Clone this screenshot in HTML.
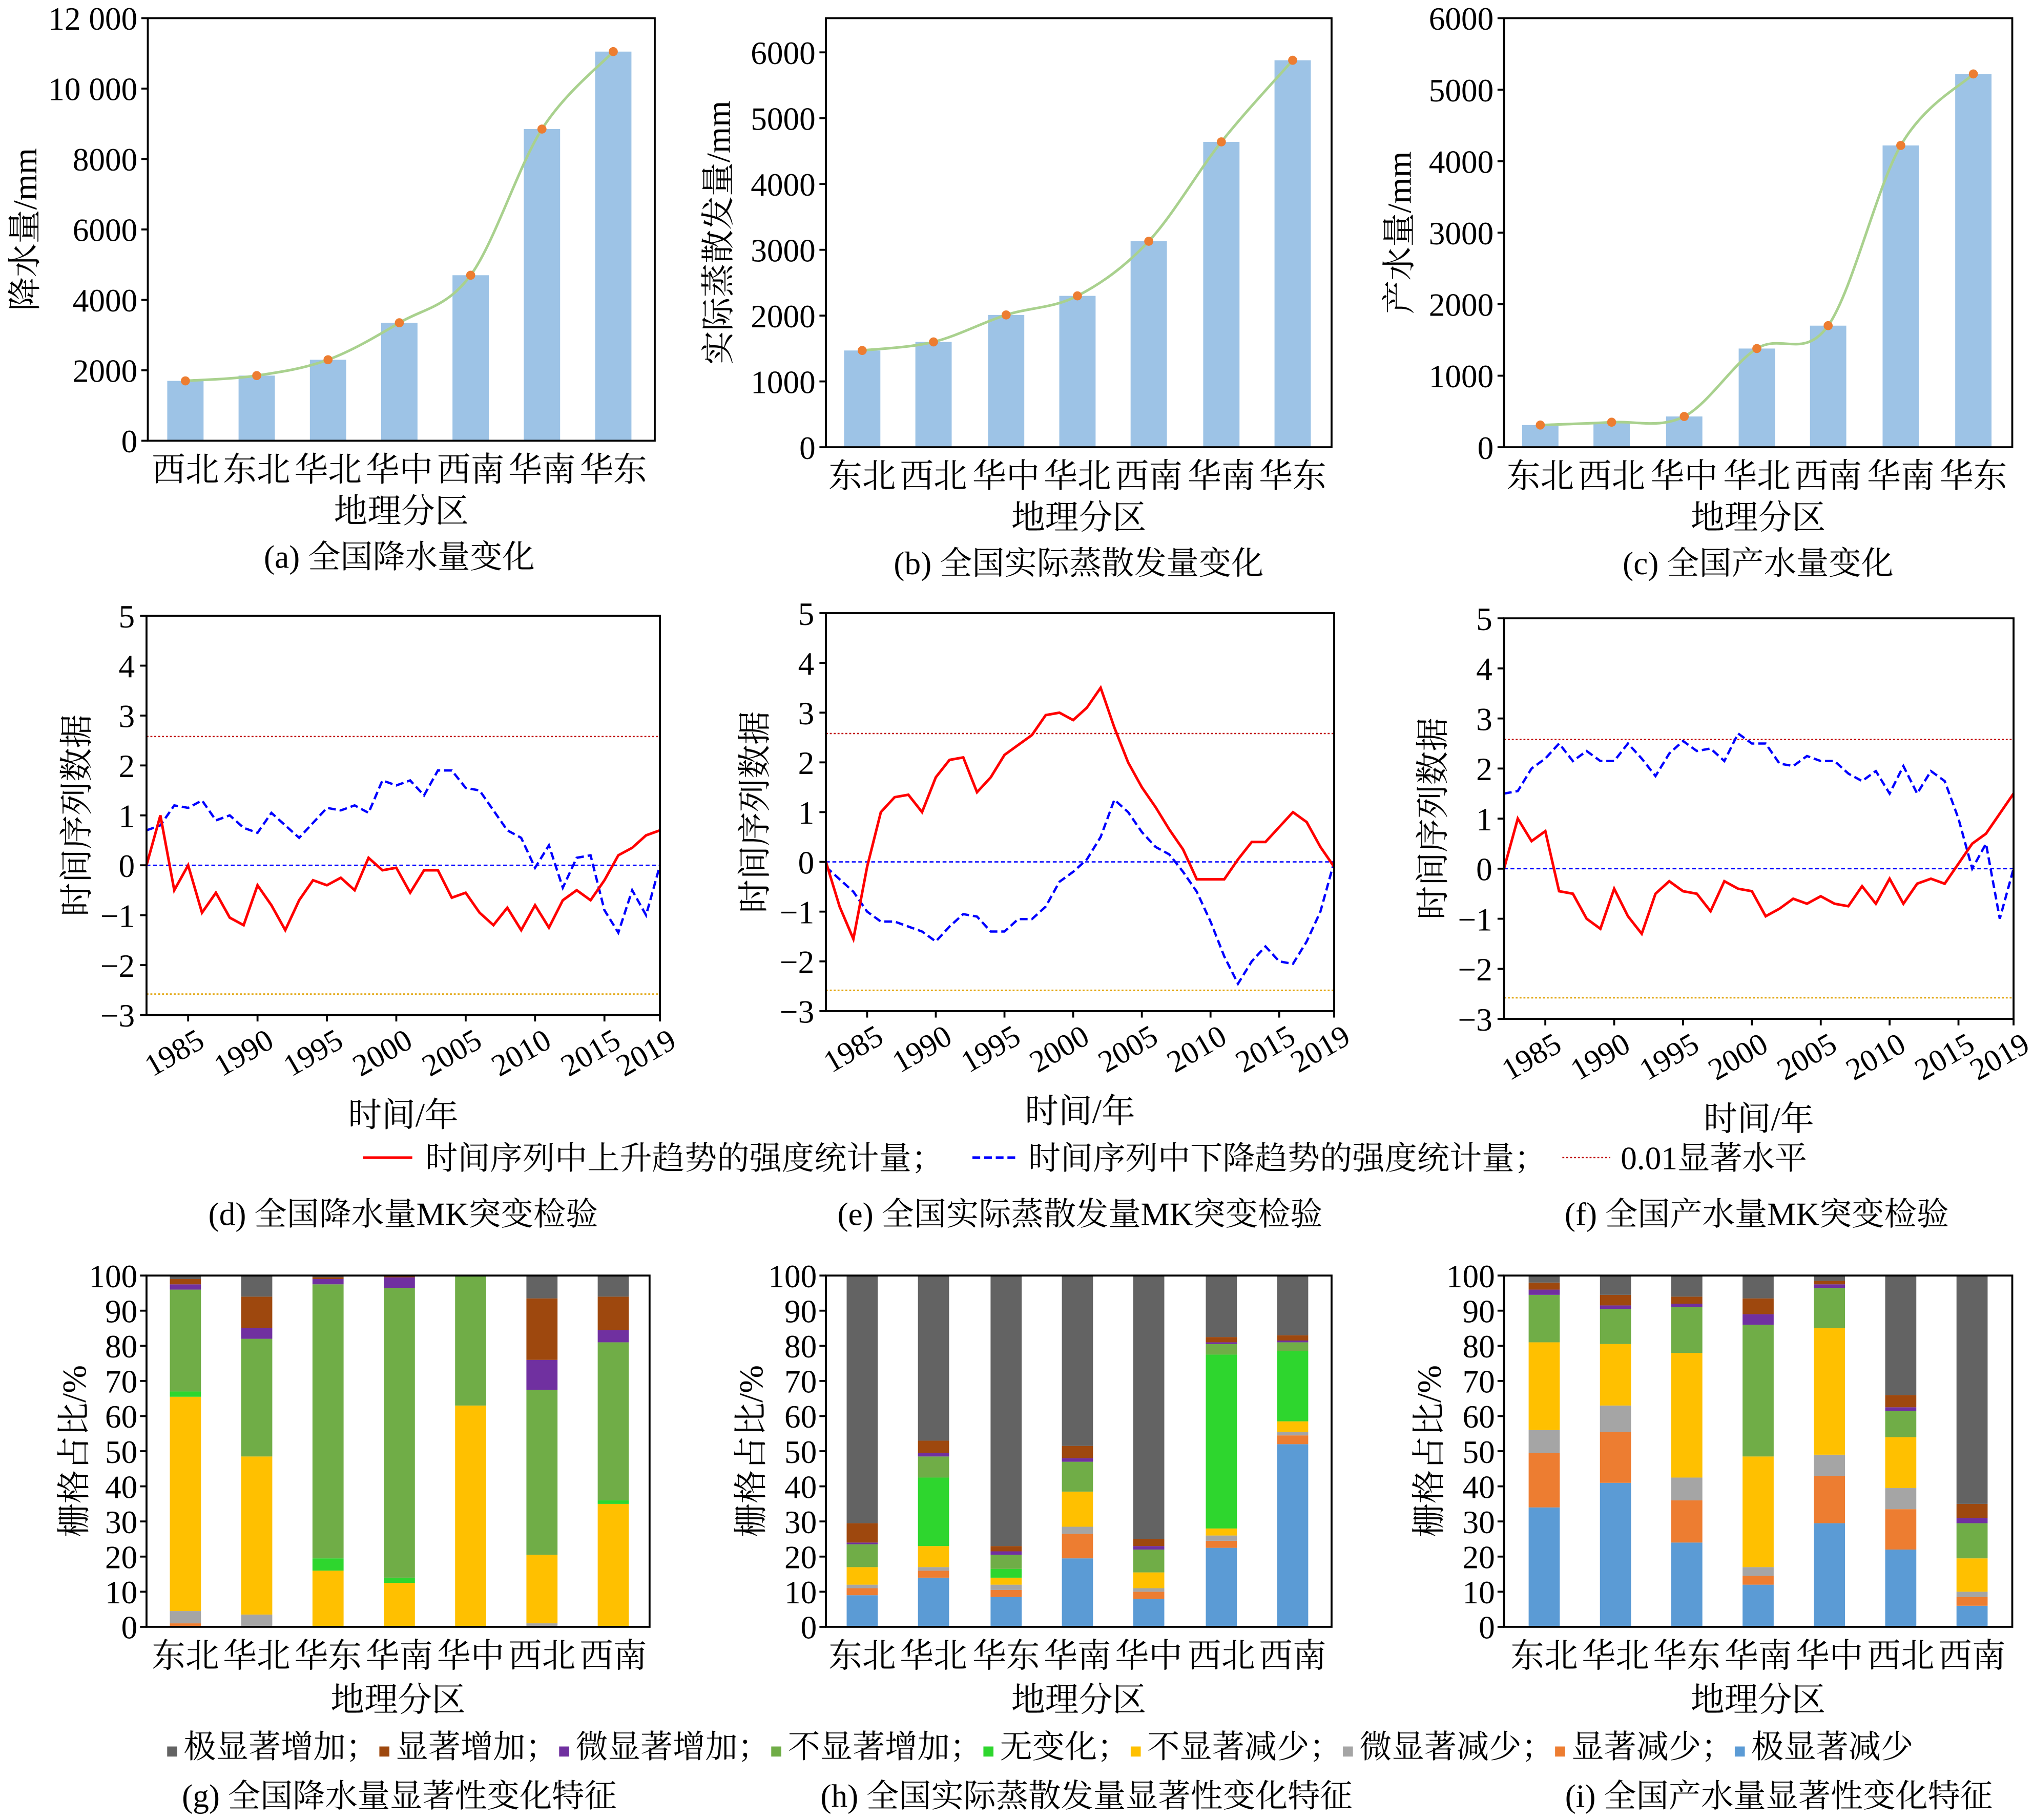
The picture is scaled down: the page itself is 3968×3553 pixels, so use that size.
<!DOCTYPE html>
<html><head><meta charset="utf-8">
<style>
html,body{margin:0;padding:0;background:#fff;}
svg{display:block;}
text{font-family:"Liberation Serif","Noto Serif CJK SC",serif;fill:#000;}
</style></head>
<body>
<svg id="s" xmlns="http://www.w3.org/2000/svg" width="3968" height="3553" viewBox="0 0 1568 1404"></svg>
<script>
const S=document.getElementById('s');let h='<rect width="1568" height="1404" fill="#fff"/>';
function T(x,y,t,sz,a,ex){h+=`<text x="${x}" y="${y}" font-size="${sz}" text-anchor="${a||'middle'}" ${ex||''}>${t}</text>`;}
function L(x1,y1,x2,y2,st){h+=`<line x1="${x1}" y1="${y1}" x2="${x2}" y2="${y2}" ${st||'stroke="#000" stroke-width="1.5"'}/>`;}
function smooth(p){let d=`M${p[0][0]},${p[0][1]}`;for(let i=0;i<p.length-1;i++){const p0=p[i-1]||p[i],p1=p[i],p2=p[i+1],p3=p[i+2]||p[i+1];
const c1=[p1[0]+(p2[0]-p0[0])/6,p1[1]+(p2[1]-p0[1])/6],c2=[p2[0]-(p3[0]-p1[0])/6,p2[1]-(p3[1]-p1[1])/6];d+=` C${c1[0]},${c1[1]} ${c2[0]},${c2[1]} ${p2[0]},${p2[1]}`;}return d;}
const CW='';
function barP(o){const {x0,x1,yb,yt,max,ticks,cats,vals,cx,yl,ylx,cap,capx}=o;const sc=(yb-yt)/max;
vals.forEach((v,i)=>{h+=`<rect x="${cx[i]-14}" y="${yb-v*sc}" width="28" height="${v*sc}" fill="#9dc3e6"/>`;});
const pts=vals.map((v,i)=>[cx[i],yb-v*sc]);h+=`<path d="${smooth(pts)}" fill="none" stroke="#a9d18e" stroke-width="2"/>`;
pts.forEach(p=>{h+=`<circle cx="${p[0]}" cy="${p[1]}" r="3.5" fill="#ed7d31"/>`;});
h+=`<rect x="${x0}" y="${yt}" width="${x1-x0}" height="${yb-yt}" fill="none" stroke="#000" stroke-width="1.5"/>`;
ticks.forEach(t=>{const y=yb-t[0]*sc;L(x0-5,y,x0,y);T(x0-8,y+9,t[1],25,'end');});
cats.forEach((c,i)=>T(cx[i],yb+31,c,26,'middle',CW));
T((x0+x1)/2,yb+63,'地理分区',26,'middle',CW);T(capx,yb+98,cap,25,'middle',CW);
T(ylx,(yb+yt)/2,yl,26,'middle',`${CW} transform="rotate(-90 ${ylx} ${(yb+yt)/2})" dy="8"`);}
const catA=['西北','东北','华北','华中','西南','华南','华东'],catB=['东北','西北','华中','华北','西南','华南','华东'];
barP({x0:114,x1:505,yb:340,yt:14,max:12000,ticks:[[0,'0'],[2000,'2000'],[4000,'4000'],[6000,'6000'],[8000,'8000'],[10000,'10 000'],[12000,'12 000']],cats:catA,vals:[1700,1850,2300,3350,4700,8850,11050],cx:[143,198,253,308,363,418,473],yl:'降水量/mm',ylx:20,cap:'(a) 全国降水量变化',capx:308});
barP({x0:637,x1:1027,yb:345,yt:14,max:6520,ticks:[[0,'0'],[1000,'1000'],[2000,'2000'],[3000,'3000'],[4000,'4000'],[5000,'5000'],[6000,'6000']],cats:catB,vals:[1470,1600,2010,2300,3130,4640,5880],cx:[665,720,776,831,886,942,997],yl:'实际蒸散发量/mm',ylx:555,cap:'(b) 全国实际蒸散发量变化',capx:832});
barP({x0:1160,x1:1552,yb:345,yt:14,max:6000,ticks:[[0,'0'],[1000,'1000'],[2000,'2000'],[3000,'3000'],[4000,'4000'],[5000,'5000'],[6000,'6000']],cats:catB,vals:[310,350,430,1380,1700,4220,5220],cx:[1188,1243,1299,1355,1410,1466,1522],yl:'产水量/mm',ylx:1080,cap:'(c) 全国产水量变化',capx:1356});
function lineP(o){const {x0,x1,yt,yb,red,blue,ylx,cap,capx}=o;const sy=(yb-yt)/8,Y=v=>yb-(v+3)*sy,X=yr=>x0+(yr-1982)*(x1-x0)/37;
L(x0,Y(2.58),x1,Y(2.58),'stroke="#c00000" stroke-width="1" stroke-dasharray="1.5,1.5"');
L(x0,Y(-2.58),x1,Y(-2.58),'stroke="#e0a000" stroke-width="1" stroke-dasharray="1.5,1.5"');
L(x0,Y(0),x1,Y(0),'stroke="#0000ff" stroke-width="1" stroke-dasharray="3,2"');
h+=`<polyline points="${blue.map((v,i)=>X(1982+i)+','+Y(v)).join(' ')}" fill="none" stroke="#0000ff" stroke-width="1.8" stroke-dasharray="6,3"/>`;
h+=`<polyline points="${red.map((v,i)=>X(1982+i)+','+Y(v)).join(' ')}" fill="none" stroke="#ff0000" stroke-width="2"/>`;
h+=`<rect x="${x0}" y="${yt}" width="${x1-x0}" height="${yb-yt}" fill="none" stroke="#000" stroke-width="1.5"/>`;
for(let v=-3;v<=5;v++){L(x0-5,Y(v),x0,Y(v));T(x0-9,Y(v)+9,v<0?'−'+(-v):v,25,'end');}
[1985,1990,1995,2000,2005,2010,2015,2019].forEach(yr=>{const x=X(yr);L(x,yb,x,yb+5);T(x+14,yb+24,yr,24,'end',`transform="rotate(-30 ${x+14} ${yb+24})"`);});
T((x0+x1)/2,yb+86,'时间/年',26,'middle',CW);T(capx,945,cap,25,'middle',CW);
T(ylx,(yb+yt)/2,'时间序列数据',26,'middle',`${CW} transform="rotate(-90 ${ylx} ${(yb+yt)/2})" dy="8"`);}
lineP({x0:113,x1:509,yt:475,yb:783,ylx:60,cap:'(d) 全国降水量MK突变检验',capx:311,
red:[0,1,-0.5,0,-0.95,-0.55,-1.05,-1.2,-0.4,-0.8,-1.3,-0.7,-0.3,-0.4,-0.25,-0.5,0.15,-0.1,-0.05,-0.55,-0.1,-0.1,-0.65,-0.55,-0.95,-1.2,-0.85,-1.3,-0.8,-1.25,-0.7,-0.5,-0.7,-0.3,0.2,0.35,0.6,0.7],
blue:[0.7,0.8,1.2,1.15,1.3,0.9,1.0,0.75,0.65,1.05,0.8,0.55,0.85,1.15,1.1,1.2,1.05,1.7,1.6,1.7,1.4,1.9,1.9,1.55,1.5,1.1,0.7,0.55,-0.05,0.4,-0.45,0.15,0.2,-0.9,-1.35,-0.5,-1.0,0]});
lineP({x0:637,x1:1029,yt:473,yb:780,ylx:583,cap:'(e) 全国实际蒸散发量MK突变检验',capx:833,
red:[0,-0.9,-1.55,-0.1,1.0,1.3,1.35,1.0,1.7,2.05,2.1,1.4,1.7,2.15,2.35,2.55,2.95,3.0,2.85,3.1,3.5,2.7,2.0,1.5,1.1,0.65,0.25,-0.35,-0.35,-0.35,0.05,0.4,0.4,0.7,1.0,0.8,0.3,-0.1],
blue:[-0.1,-0.35,-0.6,-1.0,-1.2,-1.2,-1.3,-1.4,-1.6,-1.3,-1.05,-1.1,-1.4,-1.4,-1.15,-1.15,-0.9,-0.4,-0.2,0.05,0.5,1.25,1.0,0.6,0.3,0.15,-0.2,-0.6,-1.2,-1.9,-2.45,-2.0,-1.7,-2.0,-2.05,-1.6,-1.0,0]});
lineP({x0:1160,x1:1553,yt:477,yb:786,ylx:1106,cap:'(f) 全国产水量MK突变检验',capx:1355,
red:[0,1.0,0.55,0.75,-0.45,-0.5,-1.0,-1.2,-0.4,-0.95,-1.3,-0.5,-0.25,-0.45,-0.5,-0.85,-0.25,-0.4,-0.45,-0.95,-0.8,-0.6,-0.7,-0.55,-0.7,-0.75,-0.35,-0.7,-0.2,-0.7,-0.3,-0.2,-0.3,0.1,0.5,0.7,1.1,1.5],
blue:[1.5,1.55,2.0,2.2,2.5,2.15,2.35,2.15,2.15,2.5,2.2,1.85,2.3,2.55,2.35,2.4,2.15,2.7,2.5,2.5,2.1,2.05,2.25,2.15,2.15,1.9,1.75,1.95,1.5,2.05,1.5,1.95,1.75,1.0,0.0,0.5,-1.0,0]});
L(280,893,318,893,'stroke="#ff0000" stroke-width="2"');T(328,902,'时间序列中上升趋势的强度统计量；',25,'start',CW);
L(750,893,786,893,'stroke="#0000ff" stroke-width="2" stroke-dasharray="6,3"');T(793,902,'时间序列中下降趋势的强度统计量；',25,'start',CW);
L(1205,893,1242,893,'stroke="#c00000" stroke-width="1" stroke-dasharray="1.5,1.5"');T(1250,902,'0.01显著水平',25,'start',CW);
const col=['#5b9bd5','#ed7d31','#a5a5a5','#ffc000','#2ed62e','#70ad47','#7030a0','#9e480e','#636363'];
const catS=['东北','华北','华东','华南','华中','西北','西南'];
function stackP(o){const {x0,x1,yt,yb,cx,cum,ylx,cap,capx}=o;const sc=(yb-yt)/100;
cum.forEach((c,i)=>{let prev=0;const cc=c.concat([100]);cc.forEach((v,k)=>{if(v>prev)h+=`<rect x="${cx[i]-12}" y="${yb-v*sc}" width="24" height="${(v-prev)*sc}" fill="${col[k]}"/>`;prev=Math.max(prev,v);});});
h+=`<rect x="${x0}" y="${yt}" width="${x1-x0}" height="${yb-yt}" fill="none" stroke="#000" stroke-width="1.5"/>`;
for(let v=0;v<=100;v+=10){const y=yb-v*sc;L(x0-5,y,x0,y);T(x0-7,y+9,v,25,'end');}
catS.forEach((c,i)=>T(cx[i],yb+31,c,26,'middle',CW));T((x0+x1)/2,yb+65,'地理分区',26,'middle',CW);T(capx,1394,cap,25,'middle',CW);
T(ylx,(yb+yt)/2,'栅格占比/%',26,'middle',`${CW} transform="rotate(-90 ${ylx} ${(yb+yt)/2})" dy="8"`);}
stackP({x0:113,x1:501,yt:984,yb:1255,cx:[143,198,253,308,363,418,473],ylx:58,cap:'(g) 全国降水量显著性变化特征',capx:308,
cum:[[0,1,4.5,65.5,67,96,97.5,99],[0,0,3.5,48.5,48.5,82,85,94],[0,0,0,16,19.5,97.5,99,99.5],[0,0,0,12.5,14,96.5,99.5,100],[0,0,0,63,63,100,100,100],[0,0,1,20.5,20.5,67.5,76,93.5],[0,0,0,35,36,81,84.5,94]]});
stackP({x0:637,x1:1027,yt:984,yb:1255,cx:[665,720,776,831,886,942,997],ylx:580,cap:'(h) 全国实际蒸散发量显著性变化特征',capx:838,
cum:[[9,11,12,17,17,23.5,24,29.5],[14,16,17,23,42.5,48.5,49.5,53],[8.5,10.5,12,14,16.5,20.5,21.5,23],[19.5,26.5,28.5,38.5,38.5,47,48,51.5],[8,10,11,15.5,15.5,22,23,25],[22.5,24.5,26,28,77.5,80.5,81,82.5],[52,54.5,55.5,58.5,78.5,81,81.5,83]]});
stackP({x0:1160,x1:1552,yt:984,yb:1255,cx:[1191,1246,1301,1356,1411,1466,1521],ylx:1103,cap:'(i) 全国产水量显著性变化特征',capx:1372,
cum:[[34,49.5,56,81,81,94.5,96,98],[41,55.5,63,80.5,80.5,90.5,91.5,94.5],[24,36,42.5,78,78,91,92,94],[12,14.5,17,48.5,48.5,86,89,93.5],[29.5,43,49,85,85,96.5,97.5,98.5],[22,33.5,39.5,54,54,61.5,62.5,66],[6,8.5,10,19.5,19.5,29.5,31,35]]});
const names=['极显著增加','显著增加','微显著增加','不显著增加','无变化','不显著减少','微显著减少','显著减少','极显著减少'];
const lc=[8,7,6,5,4,3,2,1,0];
let t='<text x="128" y="1356" font-size="25">';names.forEach((n,i)=>{t+=`<tspan fill="${col[lc[i]]}" font-size="16">■ </tspan><tspan>${n}${i<8?'；':''}</tspan>`;});t+='</text>';h+=t;
S.innerHTML=h;
</script>
</body></html>
